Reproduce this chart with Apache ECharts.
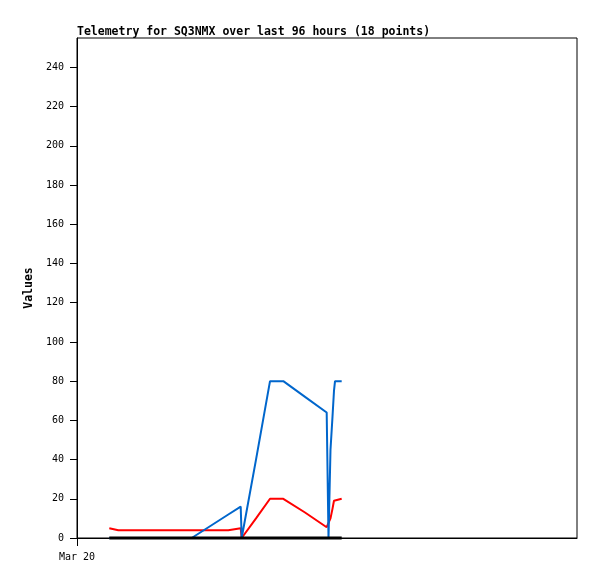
<!DOCTYPE html>
<html>
<head>
<meta charset="utf-8">
<script src="https://cdn.jsdelivr.net/npm/echarts@6/dist/echarts.min.js"></script>
<style>
    html, body { margin: 0; padding: 0; background: #fff; }
    #chart { width: 597px; height: 579px; }
</style>
</head>
<body>
<div id="chart"></div>
<script>
// hours since Mar 20 00:00 (window is 96 hours wide)
var hours = [6.2, 7.93, 22.02, 29.05, 29.28, 31.43, 31.62, 34.37, 37.06, 39.61, 43.78, 47.94, 48.29, 48.67, 49.06, 49.34, 49.54, 50.82];
var redValues = [5, 4, 4, 4, 5, 5, 0, 10, 20, 20, 13, 5.5, 5, 10, 15, 19, 20, 20];
var blueValues = [0, 0, 0, 12, 12.4, 16, 0, 40, 80, 80, 72, 64, 0, 45, 62, 75, 80, 80];
var blackValues = [0, 0, 0, 0, 0, 0, 0, 0, 0, 0, 0, 0, 0, 0, 0, 0, 0, 0];
var yTicks = [0, 20, 40, 60, 80, 100, 120, 140, 160, 180, 200, 220, 240];
var xLabels = ['Mar 20'];

var mono = 'DejaVu Sans Mono';

function pairs (vals) {
    return hours.map(function (h, i) { return [h, vals[i]]; });
}

function line (name, color, width, vals) {
    return {
        name: name,
        type: 'line',
        symbol: 'none',
        clip: false,
        lineStyle: { color: color, width: width },
        data: pairs(vals)
    };
}

var myChart = echarts.init(document.getElementById('chart'));
myChart.setOption({
    animation: false,
    title: {
        text: 'Telemetry for SQ3NMX over last 96 hours (18 points)',
        left: 72,
        top: 21,
        textStyle: { fontFamily: mono, fontSize: 11.5, fontWeight: 'bold', color: '#000' }
    },
    grid: {
        left: 77,
        right: 20,
        top: 38,
        bottom: 41,
        show: true,
        borderColor: '#000',
        borderWidth: 1
    },
    xAxis: {
        type: 'value',
        min: 0,
        max: 96,
        interval: 96,
        axisLine: { lineStyle: { color: '#000' } },
        axisTick: { show: true, length: 8, customValues: [0], lineStyle: { color: '#000' } },
        axisLabel: {
            customValues: [0],
            margin: 14,
            color: '#000',
            fontFamily: mono,
            fontSize: 10,
            formatter: function (v) { return v === 0 ? xLabels[0] : ''; }
        },
        splitLine: { show: false }
    },
    yAxis: {
        type: 'value',
        min: 0,
        max: 255,
        name: 'Values',
        nameLocation: 'middle',
        nameGap: 36,
        nameTextStyle: { fontFamily: mono, fontSize: 11.5, fontWeight: 'bold', color: '#000' },
        axisLine: { show: true, lineStyle: { color: '#000' } },
        axisTick: { show: true, length: 7, customValues: yTicks, lineStyle: { color: '#000' } },
        axisLabel: {
            customValues: yTicks,
            margin: 13,
            color: '#000',
            fontFamily: mono,
            fontSize: 10
        },
        splitLine: { show: false }
    },
    series: [
        line('red', '#ff0000', 2, redValues),
        line('blue', '#0066cc', 2, blueValues),
        line('black', '#000000', 3, blackValues)
    ]
});
</script>
</body>
</html>
